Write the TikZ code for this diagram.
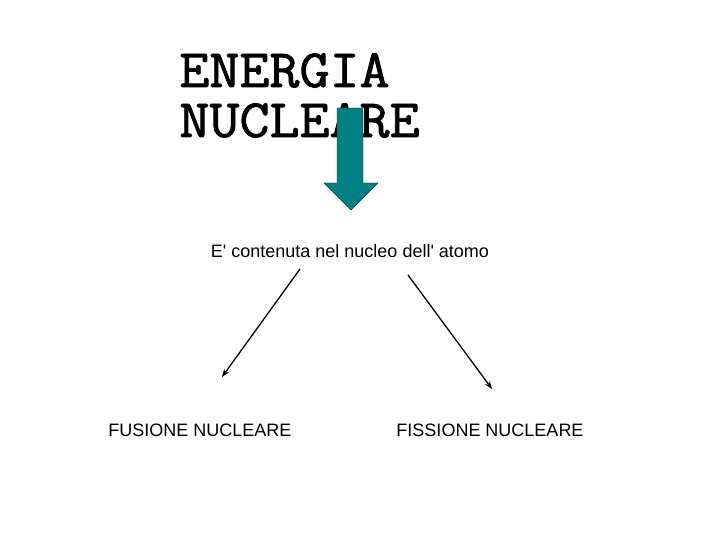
\documentclass[tikz,border=0pt]{standalone}
\usepackage{fontspec}
\usetikzlibrary{arrows.meta}
\setmainfont{Liberation Sans}
\newfontfamily\titlefont[FakeBold=1.6,FakeStretch=1.08]{Latin Modern Mono}
\definecolor{tealfill}{RGB}{0,128,128}
\definecolor{tealline}{RGB}{20,40,90}

\begin{document}
\begin{tikzpicture}[x=1pt,y=-1pt,->,>={Stealth[length=8pt,width=6pt]},thick,title node/.style={anchor=base west,inner sep=0pt,font=\titlefont\fontsize{54}{50}\selectfont},text node/.style={anchor=base,inner sep=0pt,font=\fontsize{18}{20}\selectfont}]
                \useasboundingbox[fill=white] (0,0) rectangle (720,540);

                \node[title node] (energia) at (179,87) {ENERGIA};
                \node[title node] (nucleare) at (179,137) {NUCLEARE};

                % big arrow
                \draw[-,thin,fill=tealfill,draw=tealline] (337,108) -- (363,108) -- (363,183) -- (378,183)
                    -- (351,210) -- (324,183) -- (337,183) -- cycle;

                \node[text node] (nucleo) at (350,257) {E\textquotesingle{} contenuta nel nucleo dell\textquotesingle{} atomo};
                \node[text node] (fusione) at (200,436) {FUSIONE NUCLEARE};
                \node[text node] (fissione) at (490,436) {FISSIONE NUCLEARE};

                \coordinate (l1) at (300,269);
                \coordinate (l2) at (222,377);
                \coordinate (r1) at (408,275);
                \coordinate (r2) at (492,389);

                \path[line width=1.3pt]
                    (l1) edge (l2)
                    (r1) edge (r2)
                ;

            \end{tikzpicture}
\end{document}
